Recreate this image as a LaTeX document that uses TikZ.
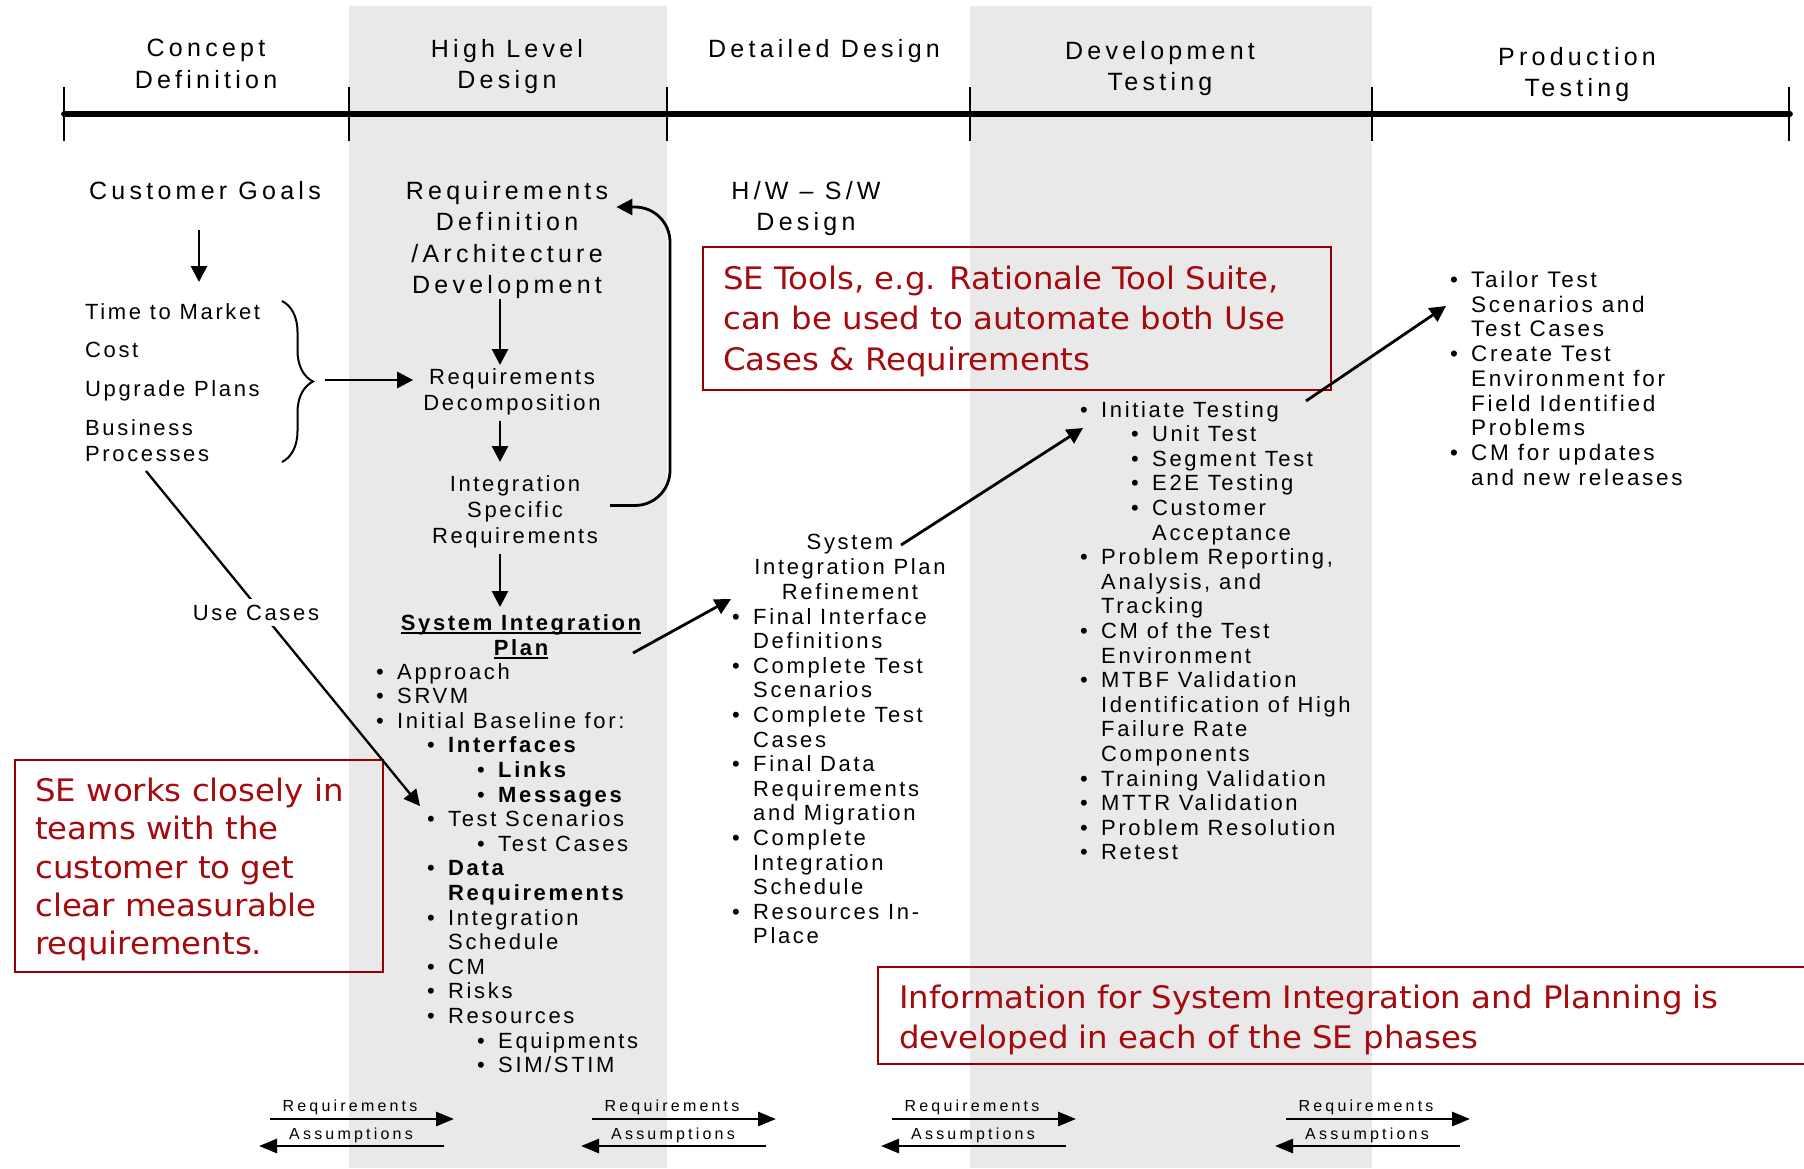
\documentclass[tikz,border=0pt]{standalone}
\usepackage{fontspec}
\setmainfont{Liberation Sans}[LetterSpace=12]
\newfontfamily\phasefont{Liberation Sans}[LetterSpace=17]
\newfontfamily\pairfont{Liberation Sans}[LetterSpace=20]
\newfontfamily\sefont{DejaVu Sans}[FakeStretch=1.045]
\usetikzlibrary{arrows.meta,decorations.pathreplacing,positioning}

\definecolor{phasegray}{RGB}{233,233,233}
\definecolor{setext}{RGB}{165,10,15}
\definecolor{seline}{RGB}{150,0,0}

\tikzset{
	phase/.style={font=\phasefont\fontsize{25}{31.5}\selectfont, align=center, inner sep=0pt, anchor=north},
	txt/.style={font=\fontsize{22}{25}\selectfont, align=center, inner sep=0pt, anchor=north},
	lst/.style={font=\fontsize{22}{24.6}\selectfont, align=left, inner sep=0pt, anchor=north west},
	redbox/.style={draw=seline, line width=2pt, inner sep=0pt, anchor=north west},
	redtxt/.style={text=setext, align=left, inner sep=0pt, anchor=north west},
	arr/.style={-{Triangle[length=16pt,width=16pt]}, line width=2.8pt},
	pairarrow/.style={-{Triangle[length=18pt,width=14pt]}, line width=2.8pt},
	pairlabel/.style={font=\pairfont\fontsize{16}{18}\selectfont, inner sep=0pt, anchor=base},
	tick/.style={line width=2pt},
}

\newcommand{\bl}[2]{\hspace*{#1pt}\makebox[21pt][l]{\textbullet}#2}
\newcommand{\bc}[2]{\hspace*{#1pt}\hspace*{21pt}#2}
\newcommand{\sipul}[1]{\setbox0\hbox{#1}\rlap{\rule[-4pt]{\wd0}{2.2pt}}\box0}

\newcommand{\phasetick}[1]{
	\draw[tick] (#1,87) -- (#1,141);
}

\newcommand{\reqpair}[2]{
	\pgfmathsetmacro{\RPra}{#2-80}
	\pgfmathsetmacro{\RPrb}{#2+104}
	\pgfmathsetmacro{\RPaa}{#2+94}
	\pgfmathsetmacro{\RPab}{#2-91}
	\node[pairlabel] (#1req) at (#2,1111.6) {Requirements};
	\node[pairlabel] (#1ass) at (#2+1,1139.6) {Assumptions};
	\coordinate (#1ra) at (\RPra,1119);
	\coordinate (#1rb) at (\RPrb,1119);
	\coordinate (#1aa) at (\RPaa,1146);
	\coordinate (#1ab) at (\RPab,1146);
	\draw[pairarrow] (#1ra) -- (#1rb);
	\draw[pairarrow] (#1aa) -- (#1ab);
}

\begin{document}
\begin{tikzpicture}[x=1pt,y=-1pt]
\useasboundingbox (0,0) rectangle (1804,1168);

\pgfmathsetmacro{\bdA}{64}
\pgfmathsetmacro{\bdB}{349}
\pgfmathsetmacro{\bdC}{667}
\pgfmathsetmacro{\bdD}{970}
\pgfmathsetmacro{\bdE}{1372}
\pgfmathsetmacro{\bdF}{1789}
\pgfmathsetmacro{\tlY}{114}

\fill[phasegray] (\bdB,6) rectangle (\bdC,1168);
\fill[phasegray] (\bdD,6) rectangle (\bdE,1168);

\draw[line width=5.7pt, line cap=round] (\bdA,\tlY) -- (1790,\tlY);
\phasetick{\bdA}
\phasetick{\bdB}
\phasetick{\bdC}
\phasetick{\bdD}
\phasetick{\bdE}
\phasetick{\bdF}

\node[phase] (cd) at (206,39) {Concept\\Definition};
\node[phase] (hl) at (507,39) {High Level\\Design};
\node[phase] (dd) at (824,39) {Detailed Design};
\node[phase] (dt) at (1160,41) {Development\\Testing};
\node[phase] (pt) at (1577,47) {Production\\Testing};

\node[phase] (cg) at (205,181.5) {Customer Goals};
\node[phase] (rd) at (507,181) {Requirements\\Definition\\/Architecture\\Development};
\node[phase] (hw) at (806,181) {H/W – S/W\\Design};

\node[lst, font=\fontsize{22}{26}\selectfont] (goals) at (85,303) {Time to Market\\[12.8pt]Cost\\[12.8pt]Upgrade Plans\\[12.8pt]Business\\Processes};
\node[txt, font=\fontsize{22}{26}\selectfont] (rdec) at (512,368) {Requirements\\Decomposition};
\node[txt, font=\fontsize{22}{26}\selectfont] (isr) at (515,475) {Integration\\Specific\\Requirements};
\node[txt, font=\fontsize{22}{25}\selectfont\bfseries] (sip) at (521,614) {\sipul{System Integration}\\\sipul{Plan}};

\node[lst] (siplist) at (376,663) {\bl{0}{Approach}\\
	\bl{0}{SRVM}\\
	\bl{0}{Initial Baseline for:}\\
	\bl{51}{\textbf{Interfaces}}\\
	\bl{101}{\textbf{Links}}\\
	\bl{101}{\textbf{Messages}}\\
	\bl{51}{Test Scenarios}\\
	\bl{101}{Test Cases}\\
	\bl{51}{\textbf{Data}}\\
	\bc{51}{\textbf{Requirements}}\\
	\bl{51}{Integration}\\
	\bc{51}{Schedule}\\
	\bl{51}{CM}\\
	\bl{51}{Risks}\\
	\bl{51}{Resources}\\
	\bl{101}{Equipments}\\
	\bl{101}{SIM/STIM}};

\node[txt] (sipr) at (850,534) {System\\Integration Plan\\Refinement};
\node[lst] (siprlist) at (732,608) {\bl{0}{Final Interface}\\
	\bc{0}{Definitions}\\
	\bl{0}{Complete Test}\\
	\bc{0}{Scenarios}\\
	\bl{0}{Complete Test}\\
	\bc{0}{Cases}\\
	\bl{0}{Final Data}\\
	\bc{0}{Requirements}\\
	\bc{0}{and Migration}\\
	\bl{0}{Complete}\\
	\bc{0}{Integration}\\
	\bc{0}{Schedule}\\
	\bl{0}{Resources In-}\\
	\bc{0}{Place}};

\node[lst] (devlist) at (1080,401) {\bl{0}{Initiate Testing}\\
	\bl{51}{Unit Test}\\
	\bl{51}{Segment Test}\\
	\bl{51}{E2E Testing}\\
	\bl{51}{Customer}\\
	\bc{51}{Acceptance}\\
	\bl{0}{Problem Reporting,}\\
	\bc{0}{Analysis, and}\\
	\bc{0}{Tracking}\\
	\bl{0}{CM of the Test}\\
	\bc{0}{Environment}\\
	\bl{0}{MTBF Validation}\\
	\bc{0}{Identification of High}\\
	\bc{0}{Failure Rate}\\
	\bc{0}{Components}\\
	\bl{0}{Training Validation}\\
	\bl{0}{MTTR Validation}\\
	\bl{0}{Problem Resolution}\\
	\bl{0}{Retest}};

\node[lst, font=\fontsize{22.5}{24.7}\selectfont] (prodlist) at (1450,271) {\bl{0}{Tailor Test}\\
	\bc{0}{Scenarios and}\\
	\bc{0}{Test Cases}\\
	\bl{0}{Create Test}\\
	\bc{0}{Environment for}\\
	\bc{0}{Field Identified}\\
	\bc{0}{Problems}\\
	\bl{0}{CM for updates}\\
	\bc{0}{and new releases}};

\node[redbox, minimum width=368pt, minimum height=212pt] (seworkbox) at (14,759) {};
\node[redtxt, font=\sefont\fontsize{31}{38.3}\selectfont] (sework) at ([shift={(21,18.7)}]seworkbox.north west) {SE works closely in\\teams with the\\customer to get\\clear measurable\\requirements.};
\node[redbox, minimum width=628pt, minimum height=143pt] (setoolsbox) at (702,246) {};
\node[redtxt, font=\sefont\fontsize{31}{40.5}\selectfont] (setools) at ([shift={(21,19.7)}]setoolsbox.north west) {SE Tools, e.g. Rationale Tool Suite,\\can be used to automate both Use\\Cases \& Requirements};
\node[redbox, minimum width=960pt, minimum height=97pt] (infobox) at (877,966) {};
\node[redtxt, font=\sefont\fontsize{31}{40}\selectfont] (info) at ([shift={(22,18.7)}]infobox.north west) {Information for System Integration and Planning is\\developed in each of the SE phases};

\coordinate (cgdown) at ([xshift=-6pt]cg.south);
\draw[arr, shorten <=30pt, shorten >=21pt] (cgdown) -- (cgdown |- goals.north);

\coordinate (bracetop) at (282,301);
\coordinate (bracebot) at (282,462);
\coordinate (bracetip) at (313,380);
\draw[line width=2pt, decorate, decoration={brace, amplitude=31pt}] (bracetop) -- (bracebot);
\draw[arr, shorten <=12pt, shorten >=10pt] (bracetip) -- (rdec.west |- bracetip);

\coordinate (rddown) at ([xshift=-7pt]rd.south);
\draw[arr, shorten >=3pt] (rddown) -- (rddown |- rdec.north);
\draw[arr, shorten <=6pt, shorten >=13pt] (rddown |- rdec.south) -- (rddown |- isr.north);
\draw[arr, shorten <=6pt, shorten >=7pt] (rddown |- isr.south) -- (rddown |- sip.north);

\coordinate (fbstart) at ([xshift=12pt,yshift=6pt]isr.east);
\coordinate (fbtop) at (670,207);
\coordinate (fbend) at ([xshift=8pt]rd.north east);
\draw[arr, rounded corners=35pt] (fbstart) -| (fbtop) -- (fbend |- fbtop);

\coordinate (ucfrom) at (146,471);
\coordinate (ucto) at (420,806);
\draw[arr, line width=2.3pt] (ucfrom) -- (ucto);
\node[lst, anchor=base, fill=white, inner xsep=2pt, inner ysep=6pt] (uc) at (256,620) {Use Cases};

\coordinate (sipout) at (633,653);
\coordinate (siprin) at (731,599);
\draw[arr] (sipout) -- (siprin);
\coordinate (siprout) at (901,545);
\coordinate (devin) at (1083,428);
\draw[arr] (siprout) -- (devin);
\coordinate (devout) at (1306,401);
\coordinate (prodin) at (1446,306);
\draw[arr] (devout) -- (prodin);

\reqpair{pa}{350}
\reqpair{pb}{672}
\reqpair{pc}{972}
\reqpair{pd}{1366}
\end{tikzpicture}
\end{document}
